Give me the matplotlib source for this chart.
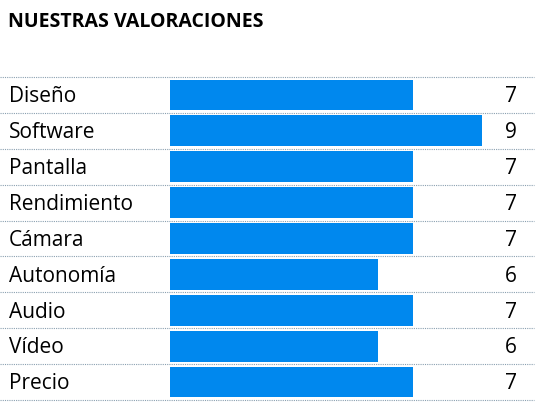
import matplotlib
matplotlib.use("Agg")
import matplotlib.pyplot as plt
from matplotlib.transforms import blended_transform_factory

categories = ["Diseño", "Software", "Pantalla", "Rendimiento", "Cámara",
              "Autonomía", "Audio", "Vídeo", "Precio"]
values = [7, 9, 7, 7, 7, 6, 7, 6, 7]
value_labels = ["7", "9", "7", "7", "7", "6", "7", "6", "7"]

W, H = 543, 407
fig = plt.figure(figsize=(W/100, H/100), dpi=100)
fig.patch.set_facecolor("white")
fam = ["Open Sans", "DejaVu Sans"]

top, bottom = 77, 400
ax = fig.add_axes([170/W, 1-bottom/H, 347/W, (bottom-top)/H])
ax.set_xlim(0, 10)
ax.set_ylim(len(categories)-0.5, -0.5)
ax.barh(range(len(categories)), values, height=0.86, color="#0088ee", zorder=2)
ax.axis("off")

for i in range(len(categories)+1):
    ax.plot([-170/34.7, 10.5], [i-0.5, i-0.5], linestyle=(0, (1, 1)), color="#8aa0b0",
            lw=0.8, clip_on=False, zorder=1)

tr = blended_transform_factory(fig.transFigure, ax.transData)
for i, (c, lab) in enumerate(zip(categories, value_labels)):
    fig.text(9/W, i + 0.05, c, transform=tr, va="center", ha="left", fontsize=15, family=fam)
    fig.text(517/W, i + 0.05, lab, transform=tr, va="center", ha="right", fontsize=15, family=fam)

fig.text(8/W, 1-22/H, "NUESTRAS VALORACIONES", fontsize=14, fontweight="bold",
         va="center", ha="left", family=fam)
fig.savefig("out.png", dpi=100)
